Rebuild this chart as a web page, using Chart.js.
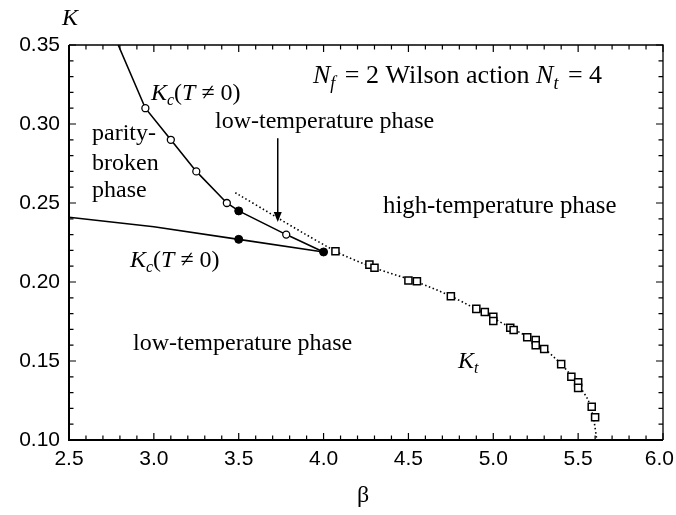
<!DOCTYPE html>
<html>
<head>
<meta charset="utf-8">
<script src="https://cdn.jsdelivr.net/npm/chart.js@4.4.1/dist/chart.umd.min.js"></script>
<style>
html,body{margin:0;padding:0;background:#fff;}
#wrap{width:676px;height:515px;position:relative;}
</style>
</head>
<body>
<div id="wrap"><canvas id="c"></canvas></div>
<script>
// ---- data ----
const xTicks = [2.5, 3.0, 3.5, 4.0, 4.5, 5.0, 5.5, 6.0];
const yTicks = [0.10, 0.15, 0.20, 0.25, 0.30, 0.35];

// upper K_c(T != 0) curve (solid line)
const kcUpperBeta = [2.79, 2.95, 3.10, 3.25, 3.43, 3.50, 3.78, 4.00];
const kcUpperK    = [0.350, 0.310, 0.290, 0.270, 0.250, 0.245, 0.230, 0.219];
// lower K_c(T != 0) curve (solid line)
const kcLowerBeta = [2.50, 3.00, 3.50, 4.00];
const kcLowerK    = [0.241, 0.235, 0.227, 0.219];
// open circles
const openBeta = [2.95, 3.10, 3.25, 3.43, 3.78];
const openK    = [0.310, 0.290, 0.270, 0.250, 0.230];
// filled circles
const filledBeta = [3.50, 3.50, 4.00];
const filledK    = [0.245, 0.227, 0.219];
// K_t squares
const ktBeta = [4.07, 4.27, 4.30, 4.50, 4.55, 4.75, 4.90, 4.95, 5.00, 5.00, 5.10, 5.12, 5.20, 5.25, 5.25, 5.30, 5.40, 5.46, 5.50, 5.50, 5.58, 5.60];
const ktK    = [0.2195, 0.211, 0.209, 0.201, 0.2005, 0.191, 0.183, 0.181, 0.178, 0.1753, 0.171, 0.1696, 0.165, 0.1633, 0.160, 0.1576, 0.148, 0.140, 0.1365, 0.133, 0.121, 0.1144];
// K_t dotted curve
const ktLineBeta = [3.48, 4.07, 4.30, 4.55, 4.75, 5.00, 5.25, 5.40, 5.50, 5.56, 5.59, 5.61];
const ktLineK    = [0.2565, 0.2195, 0.209, 0.200, 0.191, 0.177, 0.162, 0.148, 0.135, 0.125, 0.114, 0.100];
// arrow pointing to the K_t line
const arrowBeta = [3.73, 3.73];
const arrowK    = [0.291, 0.238];

const pts = (xs, ys) => xs.map((x, i) => ({x: x, y: ys[i]}));

const SERIF = '"Liberation Serif", "Times New Roman", serif';
const SANS = '"Liberation Sans", Arial, sans-serif';

function drawRich(ctx, parts, x, y, base) {
  base = base || 24;
  let cx = x;
  parts.forEach(p => {
    const size = p.sub ? Math.round(base * 0.68) : base;
    ctx.font = (p.it ? 'italic ' : '') + size + 'px ' + SERIF;
    ctx.fillText(p.t, cx, y + (p.sub ? base * 0.22 : 0));
    cx += ctx.measureText(p.t).width + (p.after || 0);
  });
}

const decor = {
  id: 'decor',
  afterDraw(chart) {
    const ctx = chart.ctx;
    const xs = chart.scales.x, ys = chart.scales.y;
    const a = chart.chartArea;
    ctx.save();
    ctx.strokeStyle = '#000';
    ctx.fillStyle = '#000';
    // frame: top & right thinner
    ctx.lineWidth = 1.3;
    ctx.beginPath();
    ctx.moveTo(a.left, a.top); ctx.lineTo(a.right, a.top); ctx.lineTo(a.right, a.bottom);
    ctx.stroke();
    ctx.lineWidth = 2;
    ctx.beginPath();
    ctx.moveTo(a.left, a.top); ctx.lineTo(a.left, a.bottom); ctx.lineTo(a.right, a.bottom);
    ctx.stroke();
    // inward tick marks
    ctx.lineWidth = 1.2;
    for (let i = 0; i <= 35; i++) {
      const v = 2.5 + i * 0.1;
      const px = xs.getPixelForValue(v);
      const len = (i % 5 === 0) ? 7 : 4.5;
      ctx.beginPath();
      ctx.moveTo(px, a.bottom); ctx.lineTo(px, a.bottom - len);
      ctx.moveTo(px, a.top); ctx.lineTo(px, a.top + len);
      ctx.stroke();
    }
    for (let i = 0; i <= 25; i++) {
      const v = 0.10 + i * 0.01;
      const py = ys.getPixelForValue(v);
      const len = (i % 5 === 0) ? 7 : 4.5;
      ctx.beginPath();
      ctx.moveTo(a.left, py); ctx.lineTo(a.left + len, py);
      ctx.moveTo(a.right, py); ctx.lineTo(a.right - len, py);
      ctx.stroke();
    }
    // x tick labels (last one kept inside the canvas)
    ctx.font = '21px ' + SANS;
    ctx.textAlign = 'center';
    ctx.textBaseline = 'middle';
    xTicks.forEach(v => {
      const s = v.toFixed(1);
      let px = xs.getPixelForValue(v);
      const w = ctx.measureText(s).width;
      if (px + w / 2 > chart.width - 2) px = chart.width - 2 - w / 2;
      ctx.fillText(s, px, a.bottom + 19);
    });
    // arrow
    const ax = xs.getPixelForValue(arrowBeta[0]);
    const ay0 = ys.getPixelForValue(arrowK[0]);
    const ay1 = ys.getPixelForValue(arrowK[1]);
    ctx.lineWidth = 1.5;
    ctx.beginPath();
    ctx.moveTo(ax, ay0); ctx.lineTo(ax, ay1 - 8);
    ctx.stroke();
    ctx.beginPath();
    ctx.moveTo(ax, ay1); ctx.lineTo(ax - 4, ay1 - 10); ctx.lineTo(ax + 4, ay1 - 10); ctx.closePath();
    ctx.fill();

    // texts
    ctx.textBaseline = 'alphabetic';
    ctx.textAlign = 'left';
    drawRich(ctx, [{t: 'K', it: true}], 62, 25);
    drawRich(ctx, [{t: 'N', it: true}, {t: 'f', it: true, sub: true, after: 3}, {t: ' = 2 Wilson action '}, {t: 'N', it: true}, {t: 't', it: true, sub: true, after: 3}, {t: ' = 4'}], 313, 83, 26);
    drawRich(ctx, [{t: 'K', it: true}, {t: 'c', it: true, sub: true}, {t: '('}, {t: 'T', it: true}, {t: ' \u2260 0)'}], 151, 100);
    drawRich(ctx, [{t: 'low-temperature phase'}], 215, 128);
    drawRich(ctx, [{t: 'parity-'}], 92, 140);
    drawRich(ctx, [{t: 'broken'}], 92, 170);
    drawRich(ctx, [{t: 'phase'}], 92, 197);
    drawRich(ctx, [{t: 'high-temperature phase'}], 383, 213, 24.8);
    drawRich(ctx, [{t: 'K', it: true}, {t: 'c', it: true, sub: true}, {t: '('}, {t: 'T', it: true}, {t: ' \u2260 0)'}], 130, 267);
    drawRich(ctx, [{t: 'low-temperature phase'}], 133, 350);
    drawRich(ctx, [{t: 'K', it: true}, {t: 't', it: true, sub: true}], 458, 368);
    ctx.font = '24px ' + SERIF;
    ctx.textAlign = 'center';
    ctx.fillText('\u03b2', 363, 502);
    ctx.restore();
  }
};

new Chart(document.getElementById('c'), {
  type: 'scatter',
  data: {
    datasets: [
      { data: pts(ktBeta, ktK), pointStyle: 'rect', pointRadius: 5, pointBackgroundColor: '#fff', pointBorderColor: '#000', pointBorderWidth: 1.5, showLine: false },
      { data: pts(openBeta, openK), pointStyle: 'circle', pointRadius: 3.5, pointBackgroundColor: '#fff', pointBorderColor: '#000', pointBorderWidth: 1.3, showLine: false },
      { data: pts(filledBeta, filledK), pointStyle: 'circle', pointRadius: 4, pointBackgroundColor: '#000', pointBorderColor: '#000', pointBorderWidth: 1, showLine: false },
      { data: pts(kcUpperBeta, kcUpperK), showLine: true, borderColor: '#000', borderWidth: 1.6, pointRadius: 0, tension: 0 },
      { data: pts(kcLowerBeta, kcLowerK), showLine: true, borderColor: '#000', borderWidth: 1.6, pointRadius: 0, tension: 0 },
      { data: pts(ktLineBeta, ktLineK), showLine: true, borderColor: '#000', borderWidth: 1.6, borderDash: [1.5, 2.5], pointRadius: 0, tension: 0.3 }
    ]
  },
  options: {
    responsive: true,
    maintainAspectRatio: false,
    animation: false,
    events: [],
    layout: { padding: { top: 45, right: 13, left: 0, bottom: 0 } },
    plugins: { legend: { display: false }, tooltip: { enabled: false } },
    scales: {
      x: {
        type: 'linear', min: 2.5, max: 6.0,
        afterFit(s) { s.height = 75; s.paddingLeft = 0; s.paddingRight = 0; },
        afterBuildTicks(s) { s.ticks = xTicks.map(v => ({value: v})); },
        grid: { display: false, drawTicks: false },
        border: { display: false },
        ticks: { display: false }
      },
      y: {
        type: 'linear', min: 0.10, max: 0.35,
        afterFit(s) { s.width = 69; s.paddingTop = 0; s.paddingBottom = 0; },
        afterBuildTicks(s) { s.ticks = yTicks.map(v => ({value: v})); },
        grid: { display: false, drawTicks: false },
        border: { display: false },
        ticks: { color: '#000', padding: 9, font: { family: SANS, size: 21 }, callback: v => Number(v).toFixed(2) }
      }
    }
  },
  plugins: [decor]
});
</script>
</body>
</html>
